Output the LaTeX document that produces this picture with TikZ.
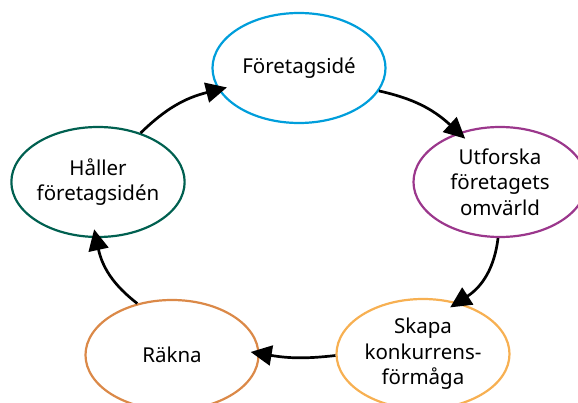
\documentclass[tikz,border=0pt]{standalone}
\usepackage{fontspec}
\setmainfont{Noto Sans}
\usetikzlibrary{arrows.meta,shapes.geometric}
\definecolor{ideablue}{RGB}{0,158,219}
\definecolor{omvpurple}{RGB}{155,55,140}
\definecolor{skapaorange}{RGB}{247,176,82}
\definecolor{raknaorange}{RGB}{219,137,72}
\definecolor{hallergreen}{RGB}{0,96,80}
\tikzset{
  stage/.style={ellipse, draw, line width=2.2pt, inner sep=0pt,
    minimum width=173pt, minimum height=110pt, align=center,
    font=\fontsize{20.5}{25.5}\selectfont},
  flow/.style={-{Triangle[length=21pt,width=20pt]}, line width=2.7pt,
    shorten >=-9pt}
}

\begin{document}
\begin{tikzpicture}[x=1pt,y=1pt]
			%%%%% START %%%%%
			\useasboundingbox (0,0) rectangle (578,-403);
			
			\node[stage, draw=ideablue] (idea) at (299,-68) {Företagsidé};
			\node[stage, draw=omvpurple] (omvarld) at (500,-182) {Utforska\\företagets\\omvärld};
			\node[stage, draw=skapaorange] (konkurrens) at (423,-354) {Skapa\\konkurrens-\\förmåga};
			\node[stage, draw=raknaorange] (rakna) at (172,-355) {Räkna};
			\node[stage, draw=hallergreen] (haller) at (98,-182) {Håller\\företagsidén};
			
			\draw[flow] (idea.-16) to[bend left=15] (omvarld.130);
			\draw[flow] (omvarld.-92) to[bend left=25] (konkurrens.56);
			\draw[flow] (konkurrens.181) to[bend left=8] (rakna.1);
			\draw[flow] (rakna.124) to[bend left=20] (haller.-92);
			\draw[flow] (haller.49) to[bend left=15] (idea.195);
			
			%%%%% END %%%%%
\end{tikzpicture}
\end{document}
